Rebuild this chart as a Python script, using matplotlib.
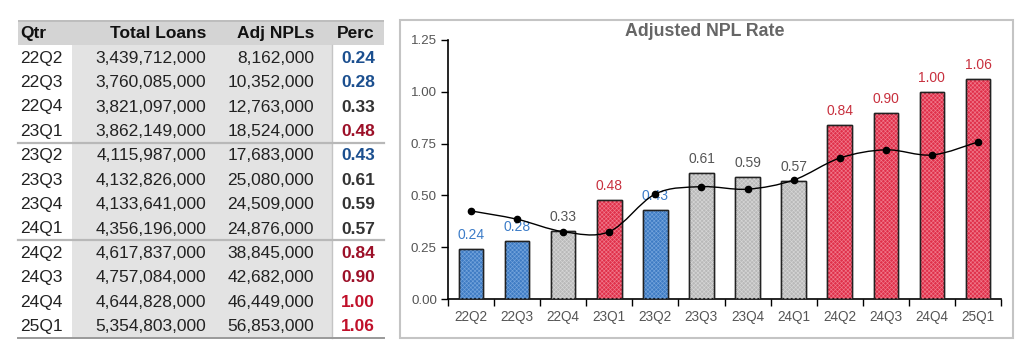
import numpy as np
import matplotlib.pyplot as plt
from matplotlib.path import Path
from matplotlib.patches import PathPatch, Rectangle

plt.rcParams['font.family'] = ['Liberation Sans', 'DejaVu Sans']
plt.rcParams['hatch.linewidth'] = 0.45

quarters = ['22Q2', '22Q3', '22Q4', '23Q1', '23Q2', '23Q3',
            '23Q4', '24Q1', '24Q2', '24Q3', '24Q4', '25Q1']
total_loans = [3439712000, 3760085000, 3821097000, 3862149000, 4115987000, 4132826000,
               4133641000, 4356196000, 4617837000, 4757084000, 4644828000, 5354803000]
adj_npls = [8162000, 10352000, 12763000, 18524000, 17683000, 25080000,
            24509000, 24876000, 38845000, 42682000, 46449000, 56853000]
perc = [0.24, 0.28, 0.33, 0.48, 0.43, 0.61, 0.59, 0.57, 0.84, 0.90, 1.00, 1.06]
band = ['low', 'low', 'mid', 'high', 'low', 'mid', 'mid', 'mid', 'high', 'high', 'high', 'high']
perc_band = ['low', 'low', 'mid', 'dark', 'low', 'mid', 'mid', 'mid', 'dark', 'dark', 'high', 'high']
trend = [0.425, 0.385, 0.325, 0.325, 0.507, 0.542, 0.53, 0.574, 0.68, 0.72, 0.695, 0.758]

bar_face = {'low': '#3f7cc4', 'mid': '#b9b9b9', 'high': '#e0304a'}
bar_hatch = {'low': '#74a4dc', 'mid': '#d6d6d6', 'high': '#f07a8c'}
label_col = {'low': '#3c7cc8', 'mid': '#555555', 'high': '#c8303e'}
perc_col = {'low': '#1b4f8f', 'mid': '#333333', 'dark': '#9c1028', 'high': '#c0102a'}

fig = plt.figure(figsize=(10.3, 3.6), dpi=100)

# ---- table drawn in pixel space ----
tb = fig.add_axes([0, 0, 1, 1])
tb.set_xlim(0, 1030)
tb.set_ylim(360, 0)
tb.axis('off')

x0, x1 = 18, 384
head_top, head_bot = 20, 45
row_h = 24.4
n = len(quarters)
bottom = head_bot + n * row_h

tb.add_patch(Rectangle((x0, head_top), x1 - x0, head_bot - head_top, facecolor='#d4d4d4', edgecolor='none'))
tb.add_patch(Rectangle((x0, head_top), x1 - x0, 2, facecolor='#bdbdbd', edgecolor='none'))
tb.add_patch(Rectangle((72, head_bot), 260, bottom - head_bot, facecolor='#e3e3e3', edgecolor='none'))
tb.plot([332, 332], [head_bot, bottom], color='#c4c4c4', lw=1)
for k in (4, 8):
    yy = head_bot + k * row_h
    tb.plot([x0, x1], [yy, yy], color='#b8b8b8', lw=1.6)
tb.plot([x0, x1], [bottom, bottom], color='#999999', lw=1.4)

fs = 12.5
hy = (head_top + head_bot) / 2 + 1
tb.text(20, hy, 'Qtr', fontsize=fs, fontweight='bold', va='center', ha='left', color='#111111')
tb.text(206, hy, 'Total Loans', fontsize=fs, fontweight='bold', va='center', ha='right', color='#111111')
tb.text(314, hy, 'Adj NPLs', fontsize=fs, fontweight='bold', va='center', ha='right', color='#111111')
tb.text(375, hy, 'Perc', fontsize=fs, fontweight='bold', va='center', ha='right', color='#111111')

for i in range(n):
    yy = head_bot + (i + 0.5) * row_h + 1
    tb.text(20, yy, quarters[i], fontsize=fs, va='center', ha='left', color='#222222')
    tb.text(206, yy, '{:,}'.format(total_loans[i]), fontsize=fs, va='center', ha='right', color='#222222')
    tb.text(314, yy, '{:,}'.format(adj_npls[i]), fontsize=fs, va='center', ha='right', color='#222222')
    tb.text(375, yy, '{:.2f}'.format(perc[i]), fontsize=fs, fontweight='bold', va='center', ha='right',
            color=perc_col[perc_band[i]])

# chart panel border
tb.add_patch(Rectangle((400, 20), 613, 318, facecolor='none', edgecolor='#c4c4c4', lw=1.5))

# ---- bar chart ----
ax = fig.add_axes([448 / 1030, 1 - 299 / 360, 553 / 1030, 259 / 360])
x = np.arange(n)
faces = [bar_face[b] for b in band]
hatches = [bar_hatch[b] for b in band]
ax.bar(x, perc, width=0.53, color=faces, edgecolor='#222222', linewidth=1.0, zorder=2)
for xi, p, hc in zip(x, perc, hatches):
    ax.bar(xi, p, width=0.53, color='none', edgecolor=hc, linewidth=0, hatch='xxxxxxxx', zorder=3)
ax.bar(x, perc, width=0.53, color='none', edgecolor='#222222', linewidth=1.0, zorder=4)

for xi, p, b in zip(x, perc, band):
    ax.annotate('{:.2f}'.format(p), (xi, p), xytext=(0, 5), textcoords='offset points',
                ha='center', va='bottom', fontsize=10, color=label_col[b], zorder=6)

# smooth trend line (Catmull-Rom as cubic Bezier)
pts = np.column_stack([x, trend]).astype(float)
ext = np.vstack([pts[0], pts, pts[-1]])
verts = [tuple(pts[0])]
codes = [Path.MOVETO]
for i in range(1, len(ext) - 2):
    p0, p1, p2, p3 = ext[i - 1], ext[i], ext[i + 1], ext[i + 2]
    verts += [tuple(p1 + (p2 - p0) / 6), tuple(p2 - (p3 - p1) / 6), tuple(p2)]
    codes += [Path.CURVE4] * 3
ax.add_patch(PathPatch(Path(verts, codes), facecolor='none', edgecolor='black', lw=1.0, zorder=7))
ax.plot(x, trend, 'o', color='black', markersize=4.5, zorder=8)

ax.set_xlim(-0.5, n - 0.5)
ax.set_ylim(0, 1.25)
ax.set_yticks([0, 0.25, 0.5, 0.75, 1.0, 1.25])
ax.set_yticklabels(['0.00', '0.25', '0.50', '0.75', '1.00', '1.25'])
ax.set_xticks(x)
ax.set_xticklabels(quarters)
ax.set_xticks(np.arange(-0.5, n, 1), minor=True)
ax.tick_params(axis='x', which='major', length=0, pad=8, labelsize=9.8, labelcolor='#555555')
ax.tick_params(axis='x', which='minor', length=5, width=1, color='black', direction='out')
ax.tick_params(axis='y', length=5, width=1, color='black', labelsize=9.6, labelcolor='#555555', pad=3)
for s in ('top', 'right'):
    ax.spines[s].set_visible(False)
for s in ('left', 'bottom'):
    ax.spines[s].set_linewidth(1.2)
ax.patch.set_alpha(0)

fig.text(705 / 1030, 1 - 32 / 360, 'Adjusted NPL Rate', fontsize=12.8, fontweight='bold',
         color='#666666', ha='center', va='center')

plt.savefig('out.png', dpi=100)
